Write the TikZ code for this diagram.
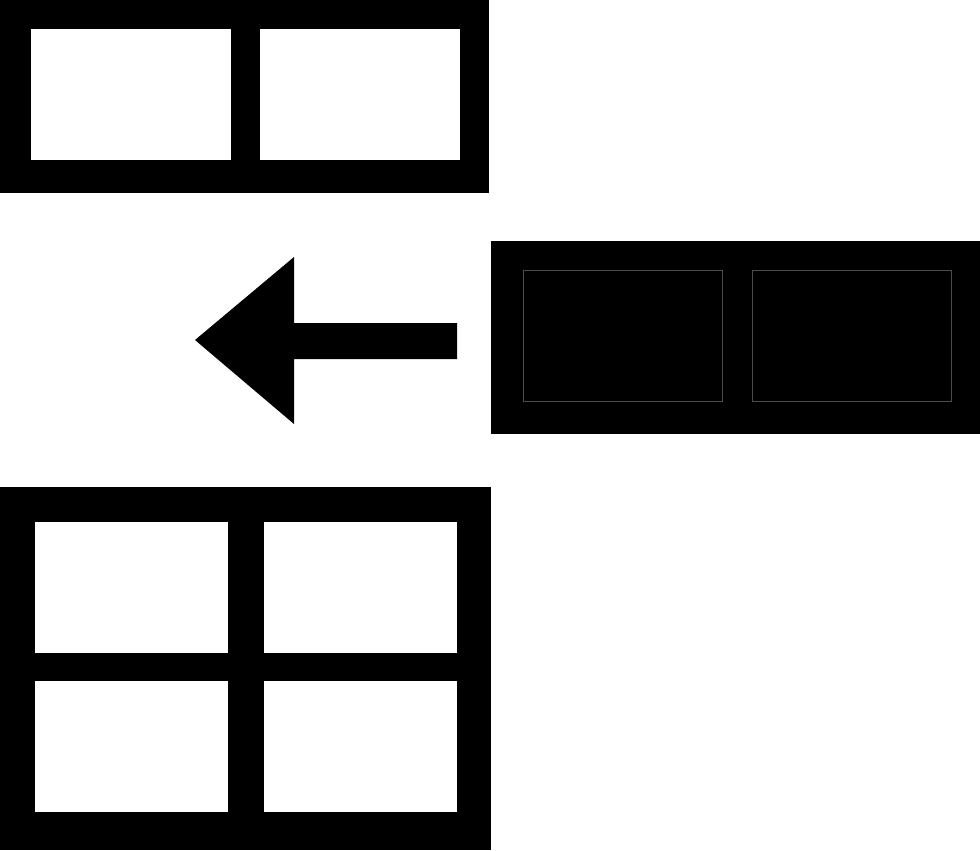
\documentclass[tikz,border=0pt]{standalone}
\usepackage{tikz}
\tikzset{
  frame/.style = {fill=black},
  pane/.style = {fill=white},
  darkpane/.style = {fill=black, draw=black!70, line width=0.4pt},
  arrowshape/.style = {fill=black}
}

\begin{document}
\begin{tikzpicture}[x=0.02cm,y=-0.02cm]
\useasboundingbox (0,0) rectangle (980,850);
% top: two panes
\fill [frame] (0,0) rectangle (489,193);
\foreach \xa/\xb in {31/231, 260/460}
  \fill [pane] (\xa,29) rectangle (\xb,160);
% middle: filled panes
\fill [frame] (491,241) rectangle (980,434);
\foreach \xa/\xb in {523/722, 752/951}
  \draw [darkpane] (\xa,270) rectangle (\xb,401);
% arrow
\fill [arrowshape] (195,340) -- (294,257) -- (294,323) -- (457,323)
  -- (457,359) -- (294,359) -- (294,424) -- cycle;
% bottom: four panes
\fill [frame] (0,487) rectangle (491,850);
\foreach \xa/\xb in {35/228, 264/457}
  \foreach \ya/\yb in {522/653, 681/812}
    \fill [pane] (\xa,\ya) rectangle (\xb,\yb);
\end{tikzpicture}
\end{document}
